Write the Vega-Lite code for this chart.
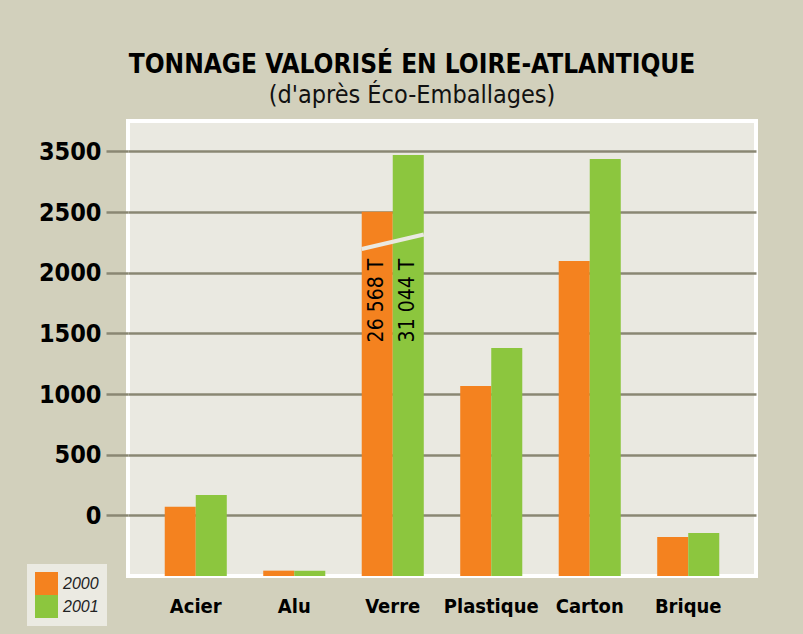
{
  "$schema": "https://vega.github.io/schema/vega-lite/v6.json",
  "width": 628,
  "height": 455,
  "autosize": {"type": "none"},
  "padding": {"left": 128, "top": 121, "right": 47, "bottom": 58},
  "background": "#d2d0bc",
  "title": {
    "text": "TONNAGE VALORISÉ EN LOIRE-ATLANTIQUE",
    "subtitle": "(d'après Éco-Emballages)",
    "anchor": "middle",
    "dx": -30,
    "offset": 13,
    "font": "DejaVu Sans Condensed, sans-serif",
    "fontSize": 26,
    "fontWeight": "bold",
    "color": "#000000",
    "subtitleFont": "DejaVu Sans Condensed, sans-serif",
    "subtitleFontSize": 25,
    "subtitleFontWeight": "normal",
    "subtitleColor": "#111111",
    "subtitlePadding": 5
  },
  "config": {
    "view": {"fill": "#eae9e1", "stroke": "#ffffff", "strokeWidth": 4},
    "font": "DejaVu Sans Condensed, sans-serif"
  },
  "datasets": {
    "bars": [
      {"category": "Acier", "year": "2000", "value": 571, "label": null},
      {"category": "Acier", "year": "2001", "value": 668, "label": null},
      {"category": "Alu", "year": "2000", "value": 44, "label": null},
      {"category": "Alu", "year": "2001", "value": 43, "label": null},
      {"category": "Verre", "year": "2000", "value": 3003, "label": "26 568 T"},
      {"category": "Verre", "year": "2001", "value": 3470, "label": "31 044 T"},
      {"category": "Plastique", "year": "2000", "value": 1566, "label": null},
      {"category": "Plastique", "year": "2001", "value": 1879, "label": null},
      {"category": "Carton", "year": "2000", "value": 2596, "label": null},
      {"category": "Carton", "year": "2001", "value": 3437, "label": null},
      {"category": "Brique", "year": "2000", "value": 321, "label": null},
      {"category": "Brique", "year": "2001", "value": 354, "label": null}
    ],
    "break": [
      {"category": "Verre", "from": 2695, "to": 2815}
    ]
  },
  "layer": [
    {
      "data": {"name": "bars"},
      "mark": {"type": "bar"},
      "encoding": {
        "x": {
          "field": "category",
          "type": "nominal",
          "sort": null,
          "title": null,
          "scale": {"domain": ["Acier", "Alu", "Verre", "Plastique", "Carton", "Brique"], "paddingInner": 0.37, "paddingOuter": 0.373},
          "axis": {
            "title": null,
            "domain": false,
            "ticks": false,
            "tickSize": 0,
            "grid": false,
            "labelAngle": 0,
            "labelPadding": 20,
            "labelFont": "DejaVu Sans Condensed, sans-serif",
            "labelFontSize": 20,
            "labelFontWeight": "bold",
            "labelColor": "#000000"
          }
        },
        "xOffset": {"field": "year", "type": "nominal"},
        "y": {
          "field": "value",
          "type": "quantitative",
          "title": null,
          "scale": {"domain": [0, 3750], "nice": false},
          "axis": {
            "title": null,
            "values": [500, 1000, 1500, 2000, 2500, 3000, 3500],
            "labelExpr": "datum.value == 3500 ? '3500' : format(datum.value - 500, 'd')",
            "grid": true,
            "gridColor": "#8a8773",
            "gridWidth": 2.5,
            "gridOpacity": 1,
            "tickColor": "#8a8773",
            "tickWidth": 2.5,
            "tickSize": 22,
            "domain": false,
            "labelPadding": 5,
            "labelFont": "DejaVu Sans Condensed, sans-serif",
            "labelFontSize": 25,
            "labelFontWeight": "bold",
            "labelColor": "#000000"
          }
        },
        "color": {
          "field": "year",
          "type": "nominal",
          "scale": {"domain": ["2000", "2001"], "range": ["#f4821f", "#8cc63e"]},
          "legend": {
            "title": null,
            "orient": "none",
            "legendX": -101,
            "legendY": 443,
            "symbolType": "square",
            "symbolSize": 529,
            "symbolStrokeWidth": 0,
            "symbolOpacity": 1,
            "rowPadding": 0,
            "labelFont": "Liberation Sans, sans-serif",
            "labelFontSize": 16,
            "labelFontStyle": "italic",
            "labelColor": "#222222",
            "labelOffset": 5,
            "padding": 8,
            "fillColor": "#ebeae2"
          }
        }
      }
    },
    {
      "data": {"name": "break"},
      "mark": {"type": "rule", "color": "#eae9e1", "strokeWidth": 4},
      "encoding": {
        "x": {"field": "category", "type": "nominal", "bandPosition": 0, "title": null},
        "x2": {"field": "category", "bandPosition": 1},
        "y": {"field": "from", "type": "quantitative", "title": null},
        "y2": {"field": "to"}
      }
    },
    {
      "data": {"name": "bars"},
      "transform": [{"filter": "datum.label != null"}],
      "mark": {
        "type": "text",
        "angle": 270,
        "align": "center",
        "baseline": "middle",
        "font": "DejaVu Sans Condensed, sans-serif",
        "fontSize": 21,
        "fontWeight": "normal",
        "color": "#000000"
      },
      "encoding": {
        "x": {"field": "category", "type": "nominal", "title": null},
        "xOffset": {"field": "year", "type": "nominal"},
        "y": {"datum": 2270, "title": null},
        "text": {"field": "label"}
      }
    }
  ]
}
